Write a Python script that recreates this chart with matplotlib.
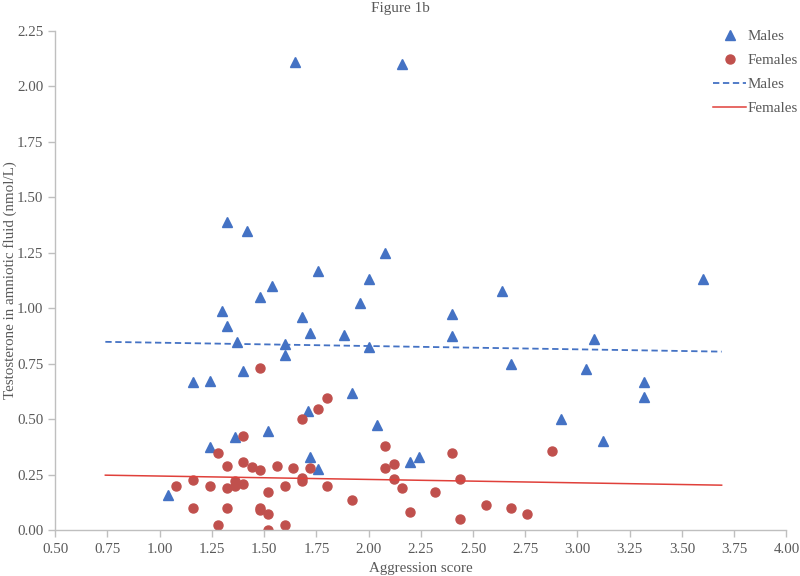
import matplotlib
matplotlib.use("Agg")
import matplotlib.pyplot as plt

# Males (triangles)
male_x = [1.04, 1.16, 1.24, 1.24, 1.30, 1.32, 1.32, 1.37, 1.36, 1.40, 1.42, 1.48,
          1.52, 1.54, 1.60, 1.60, 1.65, 1.68, 1.72, 1.71, 1.72, 1.76, 1.76, 1.88,
          1.92, 1.96, 2.00, 2.00, 2.04, 2.08, 2.16, 2.20, 2.24, 2.40, 2.40, 2.64,
          2.68, 2.92, 3.04, 3.08, 3.12, 3.32, 3.32, 3.60]
male_y = [0.16, 0.67, 0.675, 0.375, 0.99, 0.92, 1.39, 0.85, 0.42, 0.72, 1.35, 1.05,
          0.45, 1.10, 0.84, 0.79, 2.11, 0.96, 0.89, 0.54, 0.33, 0.275, 1.17, 0.88,
          0.62, 1.025, 1.13, 0.825, 0.475, 1.25, 2.10, 0.31, 0.33, 0.975, 0.875, 1.08,
          0.75, 0.50, 0.725, 0.86, 0.405, 0.67, 0.60, 1.13]

# Females (circles)
female_x = [1.08, 1.16, 1.16, 1.24, 1.28, 1.28, 1.32, 1.32, 1.32, 1.36, 1.36, 1.40,
            1.40, 1.40, 1.44, 1.48, 1.48, 1.48, 1.48, 1.52, 1.52, 1.52, 1.56, 1.60,
            1.60, 1.64, 1.68, 1.68, 1.68, 1.72, 1.76, 1.80, 1.80, 1.92, 2.08, 2.08,
            2.12, 2.12, 2.16, 2.20, 2.32, 2.40, 2.44, 2.44, 2.56, 2.68, 2.76, 2.88]
female_y = [0.20, 0.226, 0.10, 0.20, 0.35, 0.025, 0.292, 0.19, 0.10, 0.222, 0.20, 0.426,
            0.31, 0.21, 0.285, 0.73, 0.27, 0.10, 0.09, 0.175, 0.075, 0.0, 0.292, 0.20,
            0.025, 0.279, 0.50, 0.235, 0.223, 0.279, 0.549, 0.598, 0.20, 0.135, 0.38, 0.279,
            0.30, 0.231, 0.19, 0.081, 0.171, 0.35, 0.231, 0.051, 0.114, 0.10, 0.075, 0.36]

# Trend lines (end points)
trend_x = [0.74, 3.69]
male_trend = [0.849, 0.805]
female_trend = [0.249, 0.204]

xticks = [0.50, 0.75, 1.00, 1.25, 1.50, 1.75, 2.00, 2.25, 2.50, 2.75, 3.00, 3.25, 3.50, 3.75, 4.00]
yticks = [0.00, 0.25, 0.50, 0.75, 1.00, 1.25, 1.50, 1.75, 2.00, 2.25]

blue = "#4472C4"
red = "#C0504D"
txt = "#595959"
axis_col = "#BFBFBF"

plt.rcParams['font.family'] = ['Liberation Serif', 'DejaVu Serif']

fig = plt.figure(figsize=(8, 5.76), dpi=100)
ax = fig.add_axes([0.069, 0.079, 0.914, 0.868])

ax.plot(male_x, male_y, linestyle='none', marker='^', color=blue, markersize=6.5, label='Males')
ax.plot(female_x, female_y, linestyle='none', marker='o', color=red, markersize=6.5, label='Females')
ax.plot(trend_x, male_trend, linestyle=(0, (3.5, 2)), color=blue, linewidth=1.3, label='Males')
ax.plot(trend_x, female_trend, linestyle='-', color='#E0403A', linewidth=1.1, label='Females')

ax.set_xlim(0.5, 4.0)
ax.set_ylim(0.0, 2.25)
ax.set_xticks(xticks)
ax.set_yticks(yticks)
ax.set_xticklabels([f"{v:.2f}" for v in xticks])
ax.set_yticklabels([f"{v:.2f}" for v in yticks])

for s in ['top', 'right']:
    ax.spines[s].set_visible(False)
for s in ['left', 'bottom']:
    ax.spines[s].set_color(axis_col)
    ax.spines[s].set_linewidth(1.0)
ax.tick_params(axis='both', colors=axis_col, labelcolor=txt, labelsize=10.8, length=5, width=1)
ax.tick_params(axis='x', pad=4)

ax.set_xlabel('Aggression score', color=txt, fontsize=10.8, labelpad=4)
ax.set_ylabel('Testosterone in amniotic fluid (nmol/L)', color=txt, fontsize=10.8, labelpad=0)
fig.text(0.5, 0.997, 'Figure 1b', ha='center', va='top', color=txt, fontsize=11)

leg = ax.legend(loc='upper left', bbox_to_anchor=(0.892, 1.014), frameon=False, fontsize=10.8,
                labelcolor=txt, handlelength=2.2, handletextpad=0.1, labelspacing=0.7,
                borderaxespad=0)

fig.savefig('out.png', dpi=100)
